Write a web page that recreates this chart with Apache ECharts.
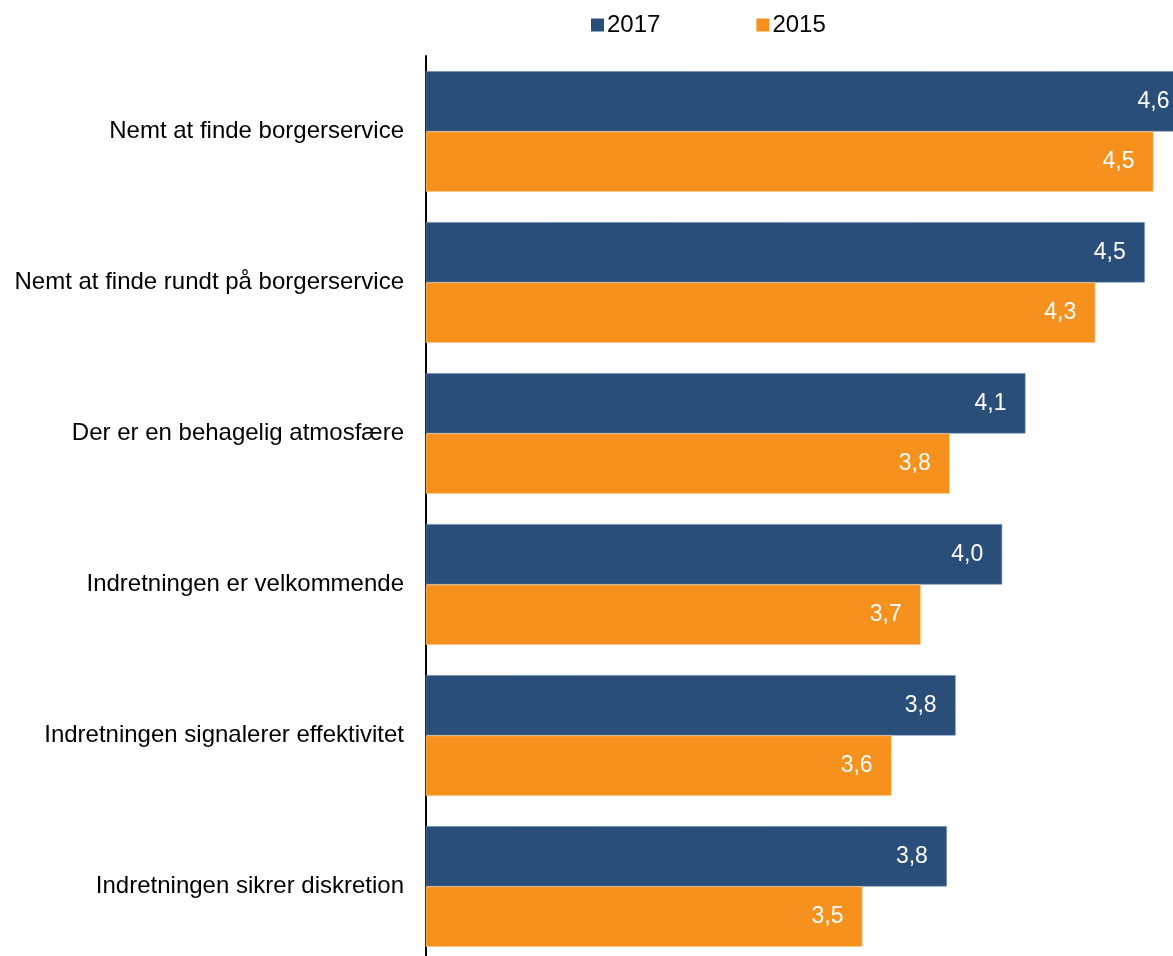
<!DOCTYPE html>
<html>
<head>
<meta charset="utf-8">
<script src="https://cdn.jsdelivr.net/npm/echarts@6/dist/echarts.min.js"></script>
<style>
  html, body { margin: 0; padding: 0; background: #fff; }
  #chart { width: 1173px; height: 956px; }
</style>
</head>
<body>
<div id="chart"></div>
<script>
// Survey statements (top to bottom) and mean scores per year
const categories = [
  'Nemt at finde borgerservice',
  'Nemt at finde rundt på borgerservice',
  'Der er en behagelig atmosfære',
  'Indretningen er velkommende',
  'Indretningen signalerer effektivitet',
  'Indretningen sikrer diskretion'
];
const values2017 = [4.62, 4.47, 4.06, 3.98, 3.82, 3.79];
const values2015 = [4.50, 4.30, 3.80, 3.70, 3.60, 3.50];
const seriesNames = ['2017', '2015'];

const FONT = '"Liberation Sans", Arial, sans-serif';
const fmt = p => p.value.toFixed(1).replace('.', ',');

// Value axis runs from 2 to 5; the plot area is wider than the canvas,
// so its right part (and the end of the longest bar) falls outside the view.
const AXIS_MIN = 2;
const AXIS_MAX = 5;

const chart = echarts.init(document.getElementById('chart'), null, { renderer: 'canvas' });

const barLabel = {
  show: true,
  position: 'insideRight',
  distance: 19,
  color: '#ffffff',
  fontFamily: FONT,
  fontSize: 23,
  formatter: fmt
};

chart.setOption({
  animation: false,
  textStyle: { fontFamily: FONT },
  legend: {
    data: seriesNames,
    top: 8,
    left: 586,
    itemWidth: 13,
    itemHeight: 13,
    itemGap: 96,
    icon: 'rect',
    itemStyle: { borderWidth: 0 },
    textStyle: { fontFamily: FONT, fontSize: 24, color: '#000', padding: [0, 0, 0, -2] }
  },
  grid: {
    left: 426,
    top: 56,
    width: 873,
    height: 906,
    containLabel: false,
    outerBoundsMode: 'none'
  },
  xAxis: {
    type: 'value',
    min: AXIS_MIN,
    max: AXIS_MAX,
    show: false
  },
  yAxis: {
    type: 'category',
    data: categories,
    inverse: true,
    axisLine: { show: true, lineStyle: { color: '#000', width: 2 } },
    axisTick: { show: false },
    axisLabel: { color: '#000', fontFamily: FONT, fontSize: 24, margin: 22 }
  },
  series: [
    {
      name: seriesNames[0],
      type: 'bar',
      data: values2017,
      barGap: '0%',
      barCategoryGap: '20%',
      itemStyle: { color: '#294e79', borderColor: '#6f8bab', borderWidth: 0.6 },
      label: barLabel
    },
    {
      name: seriesNames[1],
      type: 'bar',
      data: values2015,
      barGap: '0%',
      barCategoryGap: '20%',
      itemStyle: { color: '#f7911e', borderColor: '#fbc58a', borderWidth: 0.6 },
      label: barLabel
    }
  ]
});
</script>
</body>
</html>
